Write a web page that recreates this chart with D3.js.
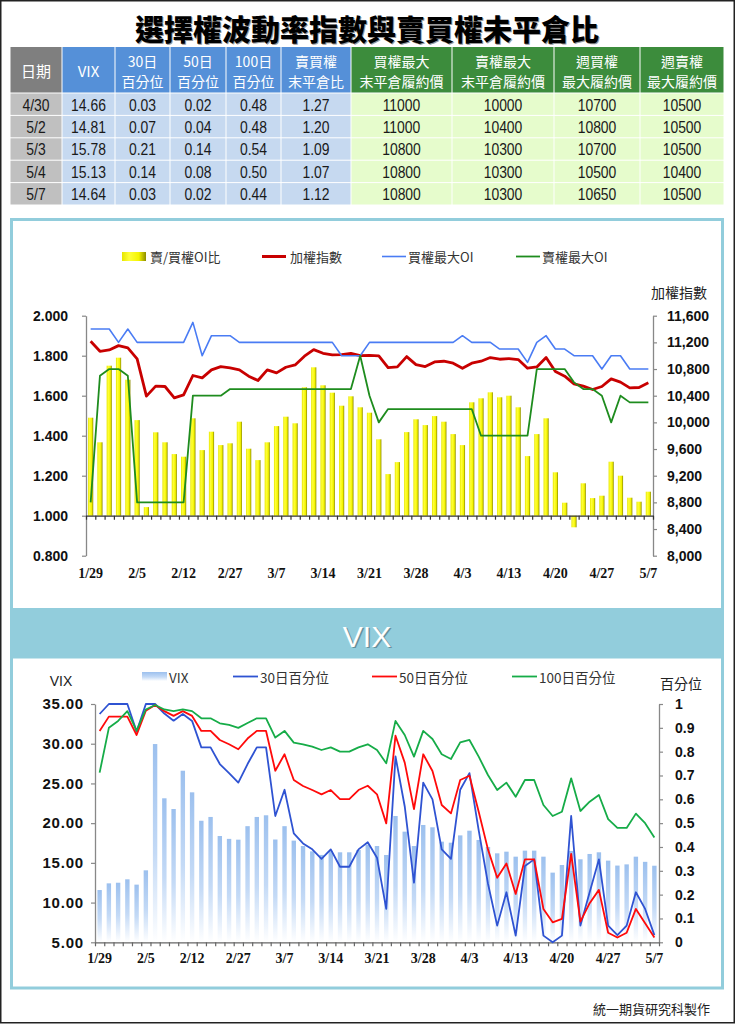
<!DOCTYPE html>
<html><head><meta charset="utf-8">
<script src="https://cdn.jsdelivr.net/npm/d3@7"></script>
<style>
html,body{margin:0;padding:0;background:#fff;}
svg{display:block;}
</style></head>
<body>
<svg id="c" width="735" height="1024"></svg>
<script>
// ---------- DATA ----------
const dates = ["1/29","1/30","1/31","2/1","2/2","2/5","2/6","2/7","2/8","2/9","2/12","2/21","2/22","2/23","2/26","2/27","3/1","3/2","3/5","3/6","3/7","3/8","3/9","3/12","3/13","3/14","3/15","3/16","3/19","3/20","3/21","3/22","3/23","3/26","3/27","3/28","3/29","3/30","3/31","4/2","4/3","4/9","4/10","4/11","4/12","4/13","4/16","4/17","4/18","4/19","4/20","4/23","4/24","4/25","4/26","4/27","4/30","5/2","5/3","5/4","5/7"];
const xLabelIdx = [0,5,10,15,20,25,30,35,40,45,50,55,60];

const ratioOI = [1.49,1.367,1.75,1.79,1.68,1.478,1.043,1.417,1.367,1.308,1.295,1.487,1.328,1.42,1.353,1.362,1.47,1.335,1.278,1.367,1.448,1.495,1.462,1.642,1.742,1.652,1.615,1.55,1.597,1.542,1.515,1.382,1.208,1.268,1.418,1.482,1.453,1.498,1.47,1.408,1.353,1.567,1.587,1.617,1.592,1.6,1.542,1.298,1.408,1.487,1.217,1.065,0.942,1.162,1.088,1.1,1.27,1.20,1.09,1.07,1.12];
const taiex = [11216,11066,11086,11151,11116,10952,10393,10543,10538,10368,10413,10703,10668,10787,10837,10817,10787,10693,10628,10787,10742,10827,10862,10992,11091,11036,11012,11017,11036,11002,11005,10997,10822,10832,10987,10867,10837,10907,10917,10887,10812,10887,10917,10972,10947,10957,10942,10812,10832,10972,10762,10693,10578,10543,10493,10538,10653,10603,10518,10523,10593];
const callMaxOI = [11400,11400,11400,11200,11400,11200,11200,11200,11200,11200,11200,11500,11000,11300,11300,11300,11200,11200,11200,11200,11200,11200,11200,11200,11200,11200,11200,11000,11000,11000,11200,11200,11200,11200,11200,11200,11200,11200,11200,11200,11300,11200,11200,11200,11100,11100,11100,10900,11200,11300,11100,11100,11000,11000,11000,10800,11000,11000,10800,10800,10800];
const putMaxOI = [8800,10700,10800,10800,10700,8800,8800,8800,8800,8800,8800,10400,10400,10400,10400,10500,10500,10500,10500,10500,10500,10500,10500,10500,10500,10500,10500,10500,10500,11000,10400,10000,10200,10200,10200,10200,10200,10200,10200,10200,10200,10200,9800,9800,9800,9800,9800,9800,10800,10800,10800,10800,10600,10500,10500,10400,10000,10400,10300,10300,10300];

const vix = [11.58,12.42,12.5,12.93,12.26,14.06,29.96,23.13,21.78,26.6,23.88,20.3,20.78,18.38,18.02,17.92,19.62,20.78,20.99,17.94,19.62,17.8,17.12,16.45,16.0,16.5,16.33,16.33,16.62,17.3,17.12,15.99,20.9,18.93,17.12,19.77,19.48,17.67,17.54,18.46,19.05,17.88,17.0,16.2,16.41,15.78,16.54,16.54,15.78,13.77,14.73,16.5,15.45,16.12,16.33,15.28,14.66,14.81,15.78,15.13,14.64];
const pct30 = [0.958,1,1,1,0.884,1,1,0.96,0.93,0.958,0.929,0.818,0.818,0.748,0.71,0.67,0.748,0.818,0.818,0.53,0.64,0.457,0.415,0.39,0.35,0.39,0.317,0.317,0.39,0.42,0.355,0.14,0.78,0.57,0.25,0.67,0.60,0.39,0.35,0.64,0.71,0.47,0.247,0.07,0.21,0.028,0.32,0.348,0.028,0.0,0.028,0.53,0.07,0.21,0.348,0.07,0.03,0.07,0.21,0.14,0.03];
const pct50 = [0.887,0.947,0.947,0.947,0.87,0.972,0.996,0.97,0.95,0.97,0.95,0.887,0.887,0.849,0.831,0.81,0.855,0.887,0.887,0.72,0.789,0.681,0.656,0.639,0.621,0.639,0.601,0.601,0.639,0.657,0.621,0.499,0.867,0.754,0.559,0.789,0.719,0.576,0.541,0.681,0.699,0.548,0.39,0.271,0.331,0.203,0.348,0.348,0.14,0.084,0.098,0.371,0.087,0.164,0.22,0.04,0.02,0.04,0.14,0.08,0.02];
const pct100 = [0.712,0.9,0.929,0.97,0.888,0.977,0.996,0.977,0.97,0.977,0.97,0.94,0.94,0.919,0.912,0.9,0.92,0.94,0.94,0.859,0.887,0.838,0.831,0.821,0.807,0.818,0.8,0.8,0.818,0.831,0.807,0.751,0.929,0.87,0.779,0.887,0.853,0.789,0.769,0.839,0.849,0.779,0.702,0.639,0.67,0.611,0.681,0.681,0.576,0.53,0.548,0.688,0.551,0.59,0.618,0.517,0.48,0.48,0.54,0.50,0.44];

const leftTicks1 = [0.8,1.0,1.2,1.4,1.6,1.8,2.0];
const rightTicks1 = [8000,8400,8800,9200,9600,10000,10400,10800,11200,11600];
const leftTicks2 = [5,10,15,20,25,30,35];
const rightTicks2 = [0,0.1,0.2,0.3,0.4,0.5,0.6,0.7,0.8,0.9,1];

// table
const tblHeaders = [["日期"],["VIX"],["30日","百分位"],["50日","百分位"],["100日","百分位"],["賣買權","末平倉比"],["買權最大","末平倉履約價"],["賣權最大","末平倉履約價"],["週買權","最大履約價"],["週賣權","最大履約價"]];
const tblDate = ["4/30","5/2","5/3","5/4","5/7"];
const tblVIX = ["14.66","14.81","15.78","15.13","14.64"];
const tbl30 = ["0.03","0.07","0.21","0.14","0.03"];
const tbl50 = ["0.02","0.04","0.14","0.08","0.02"];
const tbl100 = ["0.48","0.48","0.54","0.50","0.44"];
const tblPCR = ["1.27","1.20","1.09","1.07","1.12"];
const tblCallStrike = ["11000","11000","10800","10800","10800"];
const tblPutStrike = ["10000","10400","10300","10300","10300"];
const tblWkCall = ["10700","10800","10700","10500","10650"];
const tblWkPut = ["10500","10500","10500","10400","10500"];

// ---------- DRAW ----------
const svg = d3.select("#c");
const CJK = "'Noto Sans CJK TC','Noto Sans CJK SC',sans-serif";
const NUM = "'Liberation Sans',Arial,sans-serif";
const defs = svg.append("defs");

const yg = defs.append("linearGradient").attr("id","yg").attr("x1",0).attr("x2",1).attr("y1",0).attr("y2",0);
[[0,"#e6e600"],[0.3,"#ffff3a"],[0.7,"#f4f400"],[1,"#8c8c00"]].forEach(s=>yg.append("stop").attr("offset",s[0]).attr("stop-color",s[1]));
const bg = defs.append("linearGradient").attr("id","bg").attr("x1",0).attr("x2",0).attr("y1",0).attr("y2",1);
[[0,"#9cc0ee"],[0.55,"#c4daf6"],[1,"#ffffff"]].forEach(s=>bg.append("stop").attr("offset",s[0]).attr("stop-color",s[1]));

// outer border
svg.append("rect").attr("x",0.75).attr("y",0.75).attr("width",733.5).attr("height",1022).attr("fill","#fff").attr("stroke","#222").attr("stroke-width",1.5);

// title
const title = "選擇權波動率指數與賣買權未平倉比";
svg.append("text").attr("x",368).attr("y",29).attr("text-anchor","middle").attr("dominant-baseline","central")
  .attr("font-family",CJK).attr("font-weight",900).attr("font-size",29).attr("fill","#999").text(title);
svg.append("text").attr("x",367).attr("y",28).attr("text-anchor","middle").attr("dominant-baseline","central")
  .attr("font-family",CJK).attr("font-weight",900).attr("font-size",29).attr("fill","#000").text(title);

// table
const colEdges = [10,62,115,170,226,281,351,452,554,640,724];
const cols = [tblDate,tblVIX,tbl30,tbl50,tbl100,tblPCR,tblCallStrike,tblPutStrike,tblWkCall,tblWkPut];
const hdrFill = c => c===0 ? "#7f7f7f" : (c<=5 ? "#5590d8" : "#3c8c3c");
const cellFill = c => c===0 ? "#c0c0c0" : (c<=5 ? "#c6d9f0" : "#e6fccc");
const tg = svg.append("g");
tblHeaders.forEach((h,c)=>{
  const x0 = colEdges[c], x1 = colEdges[c+1], cx=(x0+x1)/2;
  tg.append("rect").attr("x",x0+0.5).attr("y",47).attr("width",x1-x0-1).attr("height",45.5).attr("fill",hdrFill(c));
  if(h.length===1){
    tg.append("text").attr("x",cx).attr("y",70).attr("text-anchor","middle").attr("dominant-baseline","central")
      .attr("font-family",CJK).attr("font-size",15).attr("fill","#fff").text(h[0]);
  } else {
    h.forEach((t,k)=>tg.append("text").attr("x",cx).attr("y",k?81:60.5).attr("text-anchor","middle").attr("dominant-baseline","central")
      .attr("font-family",CJK).attr("font-size",14).attr("fill","#fff").text(t));
  }
  cols[c].forEach((v,r)=>{
    const y0 = 93.5 + r*22.4;
    tg.append("rect").attr("x",x0+0.5).attr("y",y0).attr("width",x1-x0-1).attr("height",21.4).attr("fill",cellFill(c));
    tg.append("text").attr("transform",`translate(${cx},${y0+11}) scale(0.82,1)`).attr("text-anchor","middle").attr("dominant-baseline","central")
      .attr("font-family",NUM).attr("font-size",17).attr("fill","#1a1a1a").text(v);
  });
});

// frames
const FR = "#92cddc";
svg.append("rect").attr("x",11.5).attr("y",219.5).attr("width",711).attr("height",390).attr("fill","#fff").attr("stroke",FR).attr("stroke-width",3);
svg.append("rect").attr("x",11.5).attr("y",657).attr("width",711).attr("height",331).attr("fill","#fff").attr("stroke",FR).attr("stroke-width",3);
svg.append("rect").attr("x",10).attr("y",611).attr("width",714).attr("height",47).attr("fill",FR);
svg.append("text").attr("x",368.5).attr("y",637.5).attr("text-anchor","middle").attr("dominant-baseline","central")
  .attr("font-family","'Liberation Sans',sans-serif").attr("font-size",30).attr("fill","#4a6a72").attr("opacity",0.6).text("VIX");
svg.append("text").attr("x",367).attr("y",636).attr("text-anchor","middle").attr("dominant-baseline","central")
  .attr("font-family","'Liberation Sans',sans-serif").attr("font-size",30).attr("fill","#fff").text("VIX");

// footer
svg.append("text").attr("x",710).attr("y",1008).attr("text-anchor","end").attr("dominant-baseline","central")
  .attr("font-family",CJK).attr("font-size",13).attr("fill","#222").text("統一期貨研究科製作");

function styleAxis(g, color){
  g.select(".domain").attr("stroke",color).attr("stroke-width",1.3);
  g.selectAll(".tick line").attr("stroke",color).attr("stroke-width",1.2);
}

// ---------- CHART 1 ----------
const c1 = svg.append("g");
const x1 = d3.scaleBand().domain(d3.range(dates.length)).range([86,653]);
const xb1 = d3.scaleLinear().domain([0,dates.length]).range([86,653]);
const bw1 = x1.bandwidth();
const cx1 = i => x1(i)+bw1/2;
const yL1 = d3.scaleLinear().domain([0.8,2.0]).range([555.7,315.7]);
const yR1 = d3.scaleLinear().domain([8000,11600]).range([555.7,315.7]);

c1.selectAll("rect.bar").data(ratioOI).enter().append("rect")
  .attr("x",(d,i)=>cx1(i)-2.6).attr("width",5.2)
  .attr("y",d=>Math.min(yL1(d),yL1(1))).attr("height",d=>Math.abs(yL1(d)-yL1(1)))
  .attr("fill","url(#yg)");

const gl1 = c1.append("g").attr("transform","translate(86,0)")
  .call(d3.axisLeft(yL1).tickValues(leftTicks1).tickFormat(d3.format(".3f")).tickSizeInner(4).tickSizeOuter(0).tickPadding(14));
styleAxis(gl1,"#888");
gl1.selectAll("text").attr("font-family","'Liberation Sans',Arial,sans-serif").attr("font-weight","bold").attr("font-size",14).attr("fill","#111");

const gr1 = c1.append("g").attr("transform","translate(653,0)")
  .call(d3.axisRight(yR1).tickValues(rightTicks1).tickFormat(d3.format(",")).tickSizeInner(4).tickSizeOuter(0).tickPadding(10));
styleAxis(gr1,"#888");
gr1.selectAll("text").attr("font-family","'Liberation Sans',Arial,sans-serif").attr("font-weight","bold").attr("font-size",14).attr("fill","#111");

const gb1 = c1.append("g").attr("transform",`translate(0,${yL1(1)})`)
  .call(d3.axisBottom(xb1).tickValues(d3.range(dates.length+1)).tickFormat("").tickSizeInner(4).tickSizeOuter(0));
styleAxis(gb1,"#333");

c1.selectAll("text.xl").data(xLabelIdx).enter().append("text")
  .attr("x",i=>cx1(i)).attr("y",573).attr("text-anchor","middle").attr("dominant-baseline","central")
  .attr("font-family","'Liberation Serif','Times New Roman',serif").attr("font-weight","bold").attr("font-size",14).attr("fill","#111")
  .text(i=>dates[i]);

c1.append("text").attr("x",679).attr("y",292).attr("text-anchor","middle").attr("dominant-baseline","central")
  .attr("font-family",CJK).attr("font-size",14).attr("fill","#222").text("加權指數");

const line1 = arr => d3.line().x((d,i)=>cx1(i)).y(d=>yR1(d))(arr);
c1.append("path").attr("d",line1(taiex)).attr("fill","none").attr("stroke","#c80000").attr("stroke-width",2.8).attr("stroke-linejoin","round");
c1.append("path").attr("d",line1(callMaxOI)).attr("fill","none").attr("stroke","#4a7cf4").attr("stroke-width",1.6).attr("stroke-linejoin","round");
c1.append("path").attr("d",line1(putMaxOI)).attr("fill","none").attr("stroke","#1e8c1e").attr("stroke-width",1.8).attr("stroke-linejoin","round");

// legend 1
const lg1 = c1.append("g");
lg1.append("rect").attr("x",122).attr("y",252).attr("width",24).attr("height",9).attr("fill","url(#yg)");
const leg1 = [
  {x:150, t:"賣/買權OI比"},
  {x:290, t:"加權指數", c:"#c80000", w:3, lx:262},
  {x:408, t:"買權最大OI", c:"#4a7cf4", w:1.6, lx:382},
  {x:542, t:"賣權最大OI", c:"#1e8c1e", w:1.8, lx:516}
];
leg1.forEach(l=>{
  if(l.c) lg1.append("line").attr("x1",l.lx).attr("x2",l.lx+24).attr("y1",256.5).attr("y2",256.5).attr("stroke",l.c).attr("stroke-width",l.w);
  lg1.append("text").attr("x",l.x).attr("y",256.5).attr("dominant-baseline","central")
    .attr("font-family",CJK).attr("font-size",13).attr("fill","#333").text(l.t);
});

// ---------- CHART 2 ----------
const c2 = svg.append("g");
const x2 = d3.scaleBand().domain(d3.range(dates.length)).range([95,659]);
const xb2 = d3.scaleLinear().domain([0,dates.length]).range([95,659]);
const bw2 = x2.bandwidth();
const cx2 = i => x2(i)+bw2/2;
const yL2 = d3.scaleLinear().domain([5,35]).range([942.3,704]);
const yR2 = d3.scaleLinear().domain([0,1]).range([942.3,704]);

c2.selectAll("rect.vbar").data(vix).enter().append("rect")
  .attr("x",(d,i)=>cx2(i)-2.2).attr("width",4.4)
  .attr("y",d=>yL2(d)).attr("height",d=>yL2(5)-yL2(d))
  .attr("fill","url(#bg)");

const gl2 = c2.append("g").attr("transform","translate(95,0)")
  .call(d3.axisLeft(yL2).tickValues(leftTicks2).tickFormat(d3.format(".2f")).tickSizeInner(4).tickSizeOuter(0).tickPadding(7));
styleAxis(gl2,"#888");
gl2.selectAll("text").attr("font-family","'Liberation Sans',Arial,sans-serif").attr("font-weight","bold").attr("font-size",15).attr("letter-spacing",0.8).attr("fill","#111");

const gr2 = c2.append("g").attr("transform","translate(659,0)")
  .call(d3.axisRight(yR2).tickValues(rightTicks2).tickFormat(d=> (d===0||d===1)?String(d):d3.format(".1f")(d)).tickSizeInner(4).tickSizeOuter(0).tickPadding(12));
styleAxis(gr2,"#888");
gr2.selectAll("text").attr("font-family","'Liberation Sans',Arial,sans-serif").attr("font-weight","bold").attr("font-size",14).attr("fill","#111");

const gb2 = c2.append("g").attr("transform",`translate(0,${yL2(5)})`)
  .call(d3.axisBottom(xb2).tickValues(d3.range(dates.length+1)).tickFormat("").tickSizeInner(4).tickSizeOuter(0));
styleAxis(gb2,"#666");

c2.selectAll("text.xl2").data(xLabelIdx).enter().append("text")
  .attr("x",i=>cx2(i)).attr("y",958).attr("text-anchor","middle").attr("dominant-baseline","central")
  .attr("font-family","'Liberation Serif','Times New Roman',serif").attr("font-weight","bold").attr("font-size",14).attr("fill","#111")
  .text(i=>dates[i]);

c2.append("text").attr("x",61).attr("y",681).attr("text-anchor","middle").attr("dominant-baseline","central")
  .attr("font-family","'Liberation Sans',Arial,sans-serif").attr("font-size",14).attr("fill","#222").text("VIX");
c2.append("text").attr("x",681).attr("y",683).attr("text-anchor","middle").attr("dominant-baseline","central")
  .attr("font-family",CJK).attr("font-size",14).attr("fill","#222").text("百分位");

const line2 = arr => d3.line().x((d,i)=>cx2(i)).y(d=>yR2(d))(arr);
c2.append("path").attr("d",line2(pct30)).attr("fill","none").attr("stroke","#2f53d2").attr("stroke-width",1.8).attr("stroke-linejoin","round");
c2.append("path").attr("d",line2(pct50)).attr("fill","none").attr("stroke","#ff0a0a").attr("stroke-width",1.8).attr("stroke-linejoin","round");
c2.append("path").attr("d",line2(pct100)).attr("fill","none").attr("stroke","#16ac48").attr("stroke-width",1.8).attr("stroke-linejoin","round");

const lg2 = c2.append("g");
lg2.append("rect").attr("x",142).attr("y",672).attr("width",25).attr("height",9).attr("fill","url(#bg)");
const leg2 = [
  {x:169, t:"VIX"},
  {x:260, t:"30日百分位", c:"#2f53d2", lx:233},
  {x:399, t:"50日百分位", c:"#ff0a0a", lx:372},
  {x:539, t:"100日百分位", c:"#16ac48", lx:512}
];
leg2.forEach(l=>{
  if(l.c) lg2.append("line").attr("x1",l.lx).attr("x2",l.lx+25).attr("y1",676.5).attr("y2",676.5).attr("stroke",l.c).attr("stroke-width",1.8);
  lg2.append("text").attr("x",l.x).attr("y",676.5).attr("dominant-baseline","central")
    .attr("font-family",CJK).attr("font-size",13.5).attr("fill","#333").text(l.t);
});
</script>
</body></html>
